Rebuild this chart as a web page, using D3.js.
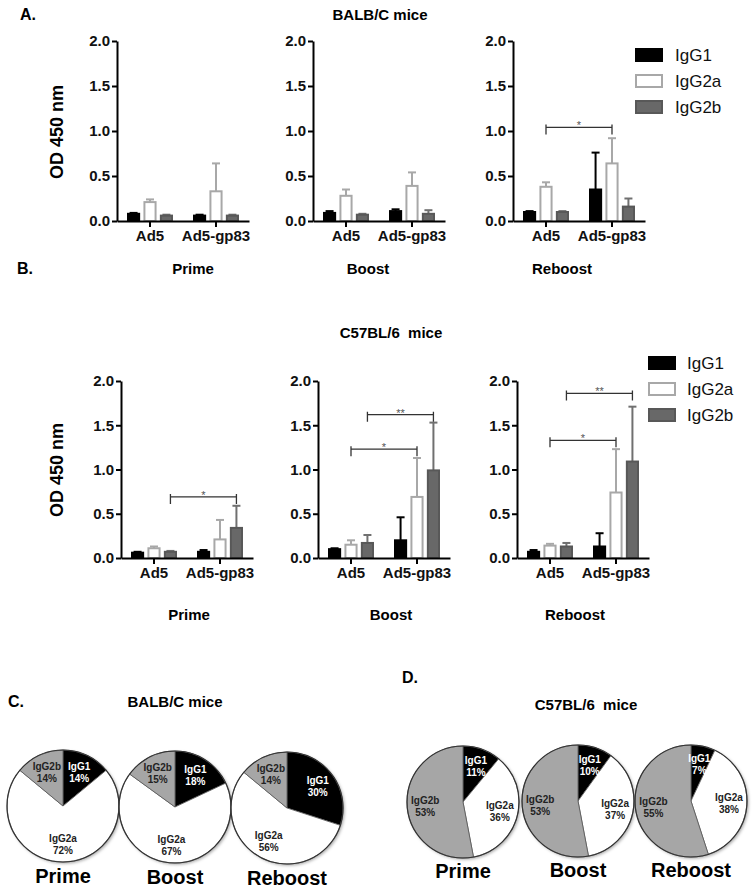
<!DOCTYPE html>
<html>
<head>
<meta charset="utf-8">
<script src="https://cdn.jsdelivr.net/npm/d3@7/dist/d3.min.js"></script>
<style>
  body { margin: 0; background: #fff; }
  text { font-family: "Liberation Sans", Arial, sans-serif; }
</style>
</head>
<body>
<svg id="fig" width="756" height="888"></svg>
<script>
var stages = ["Prime", "Boost", "Reboost"]
var groups = ["Ad5", "Ad5-gp83"]
var isotypes = ["IgG1", "IgG2a", "IgG2b"]
var yTicks = [0, 0.5, 1.0, 1.5, 2.0]

// OD 450 nm, [stage][group][isotype]
var balbMean = [
    [[0.08, 0.21, 0.06], [0.06, 0.33, 0.06]],
    [[0.09, 0.28, 0.07], [0.11, 0.39, 0.08]],
    [[0.10, 0.38, 0.10], [0.35, 0.64, 0.16]]
]
var balbTop = [   // upper end of the error bar
    [[0.09, 0.24, 0.07], [0.07, 0.64, 0.07]],
    [[0.11, 0.35, 0.08], [0.13, 0.54, 0.12]],
    [[0.11, 0.43, 0.11], [0.76, 0.92, 0.25]]
]
var c57Mean = [
    [[0.06, 0.11, 0.07], [0.07, 0.21, 0.34]],
    [[0.10, 0.15, 0.17], [0.20, 0.69, 0.99]],
    [[0.07, 0.14, 0.13], [0.13, 0.74, 1.09]]
]
var c57Top = [
    [[0.07, 0.13, 0.08], [0.09, 0.43, 0.59]],
    [[0.11, 0.20, 0.26], [0.46, 1.13, 1.53]],
    [[0.09, 0.16, 0.17], [0.28, 1.23, 1.71]]
]
var balbSig = [
    { stage: 2, iso: "IgG2a", y: 1.04, label: "*" }
]
var c57Sig = [
    { stage: 0, iso: "IgG2b", y: 0.69, label: "*" },
    { stage: 1, iso: "IgG2a", y: 1.23, label: "*" },
    { stage: 1, iso: "IgG2b", y: 1.62, label: "**" },
    { stage: 2, iso: "IgG2a", y: 1.33, label: "*" },
    { stage: 2, iso: "IgG2b", y: 1.86, label: "**" }
]
// percent share of each isotype, [stage][isotype]
var balbPie = [[14, 72, 14], [18, 67, 15], [30, 56, 14]]
var c57Pie = [[11, 36, 53], [10, 37, 53], [7, 38, 55]]

var barFill = { IgG1: "#000", IgG2a: "#fff", IgG2b: "#686868" }
var barStroke = { IgG1: "#000", IgG2a: "#a8a8a8", IgG2b: "#585858" }
var errColor = { IgG1: "#000", IgG2a: "#a8a8a8", IgG2b: "#707070" }
var pieFill = { IgG1: "#000", IgG2a: "#fff", IgG2b: "#a6a6a6" }

var svg = d3.select("#fig")

var defs = svg.append("defs")
defs.append("filter").attr("id", "shadow").attr("x", "-20%").attr("y", "-20%").attr("width", "140%").attr("height", "140%")
    .append("feDropShadow").attr("dx", 1.5).attr("dy", 1.5).attr("stdDeviation", 1.5).attr("flood-color", "#000").attr("flood-opacity", 0.35)

//------------------------------------------------------------- bar panels
var panels = [
    { letter: "A.", letterXY: [20, 20], title: "BALB/C mice", titleXY: [380, 20], chartX: [117, 313, 513], w: 132,
      yBase: 221, yTop: 41, mean: balbMean, top: balbTop, sig: balbSig, stageX: [193, 368, 562], stageY: 274,
      ylabXY: [57, 132], legendXY: [635, 48], legTextX: 675 },
    { letter: "B.", letterXY: [17, 274], title: "C57BL/6  mice", titleXY: [391, 338], chartX: [121, 318, 517], w: 132,
      yBase: 558, yTop: 381, mean: c57Mean, top: c57Top, sig: c57Sig, stageX: [189, 391, 575], stageY: 620,
      ylabXY: [57, 470], legendXY: [648, 356], legTextX: 687 }
]

panels.forEach(function (p) {
    svg.append("text").attr("x", p.letterXY[0]).attr("y", p.letterXY[1]).text(p.letter)
        .style("font-size", "16px").style("font-weight", "bold")
    svg.append("text").attr("x", p.titleXY[0]).attr("y", p.titleXY[1]).attr("text-anchor", "middle")
        .style("font-size", "15px").style("font-weight", "bold").style("white-space", "pre").text(p.title)
    svg.append("text").attr("transform", "translate(" + p.ylabXY[0] + "," + p.ylabXY[1] + ") rotate(-90)")
        .attr("text-anchor", "middle").attr("dy", "0.35em")
        .style("font-size", "18px").style("font-weight", "bold").text("OD 450 nm")

    var yScale = d3.scaleLinear().domain([0, 2]).range([p.yBase, p.yTop])
    var xScale = d3.scaleBand().domain(groups).range([0, p.w])
    var subW = 46
    var xSub = d3.scaleBand().domain(isotypes)
        .range([(xScale.bandwidth() - subW) / 2, (xScale.bandwidth() + subW) / 2]).paddingInner(0.2)
    var barCenter = function (g, iso) { return xScale(g) + xSub(iso) + xSub.bandwidth() / 2 }

    stages.forEach(function (stage, si) {
        var chart = svg.append("g").attr("transform", "translate(" + p.chartX[si] + ",0)")

        var rows = []
        groups.forEach(function (g, gi) {
            isotypes.forEach(function (iso, ii) {
                rows.push({ group: g, iso: iso, mean: p.mean[si][gi][ii], top: p.top[si][gi][ii] })
            })
        })

        // error bars (upper only)
        var eb = chart.selectAll(".err").data(rows).join("g").attr("class", "err")
            .attr("stroke", function (d) { return errColor[d.iso] }).attr("stroke-width", 2)
        eb.append("line")
            .attr("x1", function (d) { return barCenter(d.group, d.iso) })
            .attr("x2", function (d) { return barCenter(d.group, d.iso) })
            .attr("y1", function (d) { return yScale(d.mean) })
            .attr("y2", function (d) { return yScale(d.top) })
        eb.append("line")
            .attr("x1", function (d) { return barCenter(d.group, d.iso) - 4 })
            .attr("x2", function (d) { return barCenter(d.group, d.iso) + 4 })
            .attr("y1", function (d) { return yScale(d.top) })
            .attr("y2", function (d) { return yScale(d.top) })

        chart.selectAll(".bar").data(rows).join("rect").attr("class", "bar")
            .attr("x", function (d) { return xScale(d.group) + xSub(d.iso) + 1 })
            .attr("width", xSub.bandwidth() - 2)
            .attr("y", function (d) { return yScale(d.mean) })
            .attr("height", function (d) { return yScale(0) - yScale(d.mean) })
            .attr("fill", function (d) { return barFill[d.iso] })
            .attr("stroke", function (d) { return barStroke[d.iso] })
            .attr("stroke-width", 2)

        // significance brackets
        var sigs = p.sig.filter(function (s) { return s.stage === si })
        var br = chart.selectAll(".sig").data(sigs).join("g").attr("class", "sig")
        br.append("path")
            .attr("d", function (s) {
                var x1 = barCenter(groups[0], s.iso), x2 = barCenter(groups[1], s.iso), y = yScale(s.y)
                return "M" + x1 + "," + (y - 3) + "V" + (y + 7) + "M" + x1 + "," + y + "H" + x2 +
                    "M" + x2 + "," + (y - 3) + "V" + (y + 7)
            })
            .attr("fill", "none").attr("stroke", "#333").attr("stroke-width", 1.3)
        br.append("text")
            .attr("x", function (s) { return (barCenter(groups[0], s.iso) + barCenter(groups[1], s.iso)) / 2 })
            .attr("y", function (s) { return yScale(s.y) + 2 })
            .attr("text-anchor", "middle").style("font-size", "11px").attr("fill", "#555")
            .text(function (s) { return s.label })

        // axes
        var yAxis = chart.append("g").call(d3.axisLeft(yScale).tickValues(yTicks).tickFormat(d3.format(".1f")).tickSize(5).tickSizeOuter(0))
        var xAxis = chart.append("g").attr("transform", "translate(0," + p.yBase + ")")
            .call(d3.axisBottom(xScale).tickSize(6).tickSizeOuter(0).tickPadding(3))
        ;[yAxis, xAxis].forEach(function (ax) {
            ax.select(".domain").attr("stroke", "#000").attr("stroke-width", 2)
            ax.selectAll(".tick line").attr("stroke", "#000").attr("stroke-width", 2)
            ax.selectAll(".tick text").attr("fill", "#111").style("font-size", "15px").style("font-weight", "bold")
                .style("font-family", "'Liberation Sans', Arial, sans-serif")
        })
        yAxis.selectAll(".tick text").attr("x", -7)

        svg.append("text").attr("x", p.stageX[si]).attr("y", p.stageY).attr("text-anchor", "middle")
            .style("font-size", "15px").style("font-weight", "bold").text(stage)
    })

    // legend
    var leg = svg.append("g").attr("transform", "translate(" + p.legendXY[0] + "," + p.legendXY[1] + ")")
    var li = leg.selectAll(".li").data(isotypes).join("g").attr("class", "li")
        .attr("transform", function (d, i) { return "translate(0," + (i * 26) + ")" })
    li.append("rect").attr("x", 1).attr("y", 1).attr("width", 26).attr("height", 12)
        .attr("fill", function (d) { return barFill[d] }).attr("stroke", function (d) { return barStroke[d] }).attr("stroke-width", 2)
    li.append("text").attr("x", p.legTextX - p.legendXY[0]).attr("y", 13)
        .style("font-size", "17px").attr("fill", "#111").text(function (d) { return d })
})

//------------------------------------------------------------- pie panels
var piePanels = [
    { letter: "C.", letterXY: [8, 707], title: "BALB/C mice", titleXY: [175, 707], data: balbPie,
      centers: [[63, 806], [175, 807], [287, 808]], labelDy: 77 },
    { letter: "D.", letterXY: [402, 683], title: "C57BL/6  mice", titleXY: [586, 710], data: c57Pie,
      centers: [[463, 802], [578, 801], [691, 801]], labelDy: 76 }
]
var radius = 56
var pie = d3.pie().sort(null).value(function (d) { return d.v })
var arc = d3.arc().innerRadius(0).outerRadius(radius)
var labelArc = d3.arc().innerRadius(38).outerRadius(38)

piePanels.forEach(function (p) {
    svg.append("text").attr("x", p.letterXY[0]).attr("y", p.letterXY[1]).text(p.letter)
        .style("font-size", "16px").style("font-weight", "bold")
    svg.append("text").attr("x", p.titleXY[0]).attr("y", p.titleXY[1]).attr("text-anchor", "middle")
        .style("font-size", "15px").style("font-weight", "bold").style("white-space", "pre").text(p.title)

    stages.forEach(function (stage, si) {
        var c = p.centers[si]
        var g = svg.append("g").attr("transform", "translate(" + c[0] + "," + c[1] + ")")
        var slices = pie(isotypes.map(function (iso, ii) { return { iso: iso, v: p.data[si][ii] } }))
        g.append("circle").attr("r", radius).attr("fill", "#fff").attr("filter", "url(#shadow)")
        g.selectAll(".slice").data(slices).join("path").attr("class", "slice")
            .attr("d", arc).attr("fill", function (d) { return pieFill[d.data.iso] })
            .attr("stroke", "#555").attr("stroke-width", 0.8)
        g.append("circle").attr("r", radius).attr("fill", "none").attr("stroke", "#333").attr("stroke-width", 1.2)
        var lab = g.selectAll(".plab").data(slices).join("text").attr("class", "plab")
            .attr("transform", function (d) { return "translate(" + labelArc.centroid(d) + ")" })
            .attr("text-anchor", "middle").style("font-size", "10px").style("font-weight", "bold")
            .attr("fill", function (d) { return d.data.iso === "IgG1" ? "#fff" : "#222" })
        lab.append("tspan").attr("x", 0).attr("y", -2).text(function (d) { return d.data.iso })
        lab.append("tspan").attr("x", 0).attr("y", 10).text(function (d) { return d.data.v + "%" })

        svg.append("text").attr("x", c[0]).attr("y", c[1] + p.labelDy).attr("text-anchor", "middle")
            .style("font-size", "20px").style("font-weight", "bold").text(stage)
    })
})
</script>
</body>
</html>
